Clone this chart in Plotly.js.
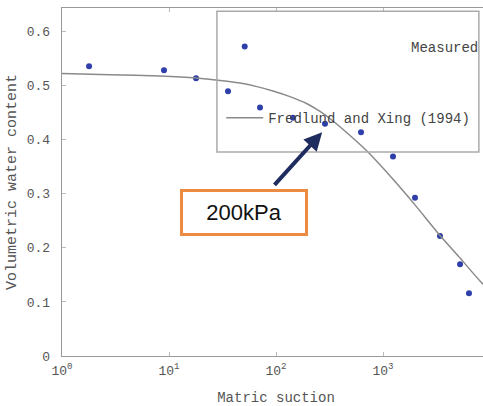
<!DOCTYPE html>
<html>
<head>
<meta charset="utf-8">
<script src="https://cdn.plot.ly/plotly-3.0.1.min.js"></script>
<style>
  html, body { margin: 0; padding: 0; overflow: hidden; background: #fff; }
  #chart { width: 495px; height: 406px; }
</style>
</head>
<body>
<div id="chart"></div>
<script>
// Measured data (matric suction, volumetric water content)
const measuredSuction = [1.79, 8.98, 17.9, 35.6, 70.9, 144, 287, 623, 1240, 1991, 3410, 5250, 6360];
const measuredTheta   = [0.536, 0.529, 0.514, 0.490, 0.460, 0.441, 0.430, 0.414, 0.369, 0.293, 0.222, 0.170, 0.116];

// Fredlund and Xing (1994) fitted curve
const fitSuction = [1, 2.81, 8.24, 17.9, 28.7, 46.1, 66.4, 93.7, 135, 195, 258, 341, 492, 708, 1240, 1991, 3410, 5250, 8420, 10000];
const fitTheta   = [0.5227, 0.5205, 0.518, 0.5145, 0.5105, 0.505, 0.4985, 0.4905, 0.480, 0.4668, 0.4526, 0.4349, 0.408, 0.3792, 0.3271, 0.2797, 0.223, 0.1812, 0.1348, 0.123];

const xTickVals = [1, 10, 100, 1000];
const xTickText = ['10<sup>0</sup>', '10<sup>1</sup>', '10<sup>2</sup>', '10<sup>3</sup>'];
const yTickVals = [0, 0.1, 0.2, 0.3, 0.4, 0.5, 0.6];
const yTickText = ['0', '0.1', '0.2', '0.3', '0.4', '0.5', '0.6'];

const measuredName = '\u00A0'.repeat(17) + 'Measured';
const fitName = 'Fredlund and Xing (1994)';
const calloutText = '200kPa';
const arrowTipSuction = 270;   // kPa
const arrowTipTheta = 0.414;

const mono = 'Liberation Mono, Courier New, monospace';

const traces = [
  {
    x: measuredSuction, y: measuredTheta, type: 'scatter', mode: 'markers',
    name: measuredName, legendgroup: 'a',
    marker: { color: '#2F3FA9', size: 6 }
  },
  {
    x: fitSuction, y: fitTheta, type: 'scatter', mode: 'lines',
    name: fitName, legendgroup: 'b',
    line: { color: '#8a8a8a', width: 1.5, shape: 'spline', smoothing: 0.5 }
  }
];

const layout = {
  width: 495, height: 406,
  margin: { l: 62, r: 5, t: 8, b: 50 },
  paper_bgcolor: '#fff', plot_bgcolor: '#fff',
  font: { family: mono, color: '#555', size: 13 },
  showlegend: true,
  legend: {
    x: 0.372, xanchor: 'left', y: 0.934, yanchor: 'top',
    bgcolor: 'rgba(0,0,0,0)', borderwidth: 0,
    font: { family: mono, size: 14, color: '#444' },
    traceorder: 'grouped', tracegroupgap: 50, itemwidth: 37
  },
  xaxis: {
    type: 'log', range: [0, 4],
    tickvals: xTickVals, ticktext: xTickText,
    ticks: 'inside', ticklen: 4, tickcolor: '#bbb',
    showline: true, linecolor: '#999', linewidth: 1.3, mirror: 'ticks',
    showgrid: false, zeroline: false,
    tickfont: { family: mono, size: 13, color: '#555' },
    ticklabelstandoff: 2,
    title: { text: 'Matric suction', font: { family: mono, size: 14, color: '#555' }, standoff: 14 }
  },
  yaxis: {
    range: [0, 0.644],
    tickvals: yTickVals, ticktext: yTickText,
    ticks: 'inside', ticklen: 4, tickcolor: '#bbb',
    showline: true, linecolor: '#999', linewidth: 1.3, mirror: 'ticks',
    showgrid: false, zeroline: false,
    tickfont: { family: mono, size: 13, color: '#555' },
    ticklabelstandoff: 8,
    title: { text: 'Volumetric water content', font: { family: mono, size: 15, color: '#555' }, standoff: 6 }
  },
  shapes: [
    { type: 'rect', xref: 'paper', yref: 'paper', x0: 0.362, x1: 0.974, y0: 0.586, y1: 0.991,
      line: { color: '#aaa', width: 1.5 }, fillcolor: 'rgba(0,0,0,0)' }
  ],
  annotations: [
    {
      xref: 'paper', yref: 'paper', x: 0.425, y: 0.412, xanchor: 'center', yanchor: 'middle',
      text: calloutText, showarrow: false,
      font: { family: 'Liberation Sans, Arial, sans-serif', size: 22, color: '#111' },
      width: 122, height: 41, bordercolor: '#EE8B42', borderwidth: 3, borderpad: 0, bgcolor: '#fff'
    },
    {
      xref: 'x', yref: 'y', x: Math.log10(arrowTipSuction), y: arrowTipTheta,
      text: '', showarrow: true, axref: 'pixel', ayref: 'pixel', ax: -49, ay: 54,
      arrowhead: 2, arrowsize: 0.9, arrowwidth: 4, arrowcolor: '#1F2C5F', standoff: 0, startstandoff: 0
    }
  ]
};

Plotly.newPlot('chart', traces, layout, { displayModeBar: false, staticPlot: true });
</script>
</body>
</html>
